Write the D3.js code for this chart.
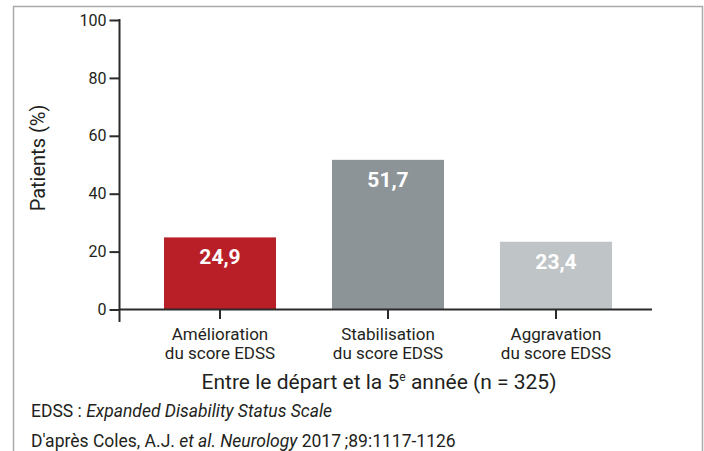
<!DOCTYPE html>
<html>
<head>
<meta charset="utf-8">
<script src="https://cdn.jsdelivr.net/npm/d3@7"></script>
<style>
  html, body { margin: 0; padding: 0; background: #fff; }
  svg { display: block; font-family: Roboto, "Noto Sans", sans-serif; }
</style>
</head>
<body>
<svg id="chart" width="704" height="451"></svg>
<script>
const categories = ["Amélioration|du score EDSS", "Stabilisation|du score EDSS", "Aggravation|du score EDSS"];
const values = [24.9, 51.7, 23.4];
const valueLabels = ["24,9", "51,7", "23,4"];
const colors = ["#B81F27", "#8D9497", "#BFC4C6"];
const yTicks = [0, 20, 40, 60, 80, 100];
const yTitle = "Patients (%)";
const footnote1 = ["EDSS : ", "Expanded Disability Status Scale"];

const svg = d3.select("#chart");
const textColor = "#231F20";

// frame
svg.append("path")
  .attr("d", "M13.5,451 L13.5,6.5 L702.5,6.5 L702.5,451")
  .attr("fill", "none").attr("stroke", "#ABABAB").attr("stroke-width", 1.5);

const y = d3.scaleLinear().domain([0, 100]).range([309.5, 20]);
const x = d3.scaleBand().domain(categories).range([136, 640]).paddingInner(1/3).paddingOuter(1/6);
const axisX = 119.5;

// bars
svg.selectAll("rect.bar").data(categories).join("rect")
  .attr("class", "bar")
  .attr("x", d => x(d))
  .attr("width", x.bandwidth())
  .attr("y", (d, i) => y(values[i]))
  .attr("height", (d, i) => y(0) - y(values[i]))
  .attr("fill", (d, i) => colors[i]);

svg.selectAll("text.val").data(categories).join("text")
  .attr("class", "val")
  .attr("x", d => x(d) + x.bandwidth() / 2)
  .attr("y", (d, i) => y(values[i]) + 27)
  .attr("text-anchor", "middle")
  .attr("fill", "#fff")
  .attr("font-weight", "bold")
  .attr("font-size", 21)
  .text((d, i) => valueLabels[i]);

// y axis
const yAxis = d3.axisLeft(y).tickValues(yTicks).tickSize(10).tickPadding(3).tickSizeOuter(0);
const gy = svg.append("g").attr("transform", `translate(${axisX},0)`).call(yAxis);
gy.select(".domain").remove();
gy.selectAll(".tick line").attr("stroke", "#2b2b2b").attr("stroke-width", 2);
gy.selectAll(".tick text").attr("font-size", 16).attr("fill", textColor).attr("font-family", "Roboto, sans-serif");
svg.append("line").attr("x1", axisX).attr("x2", axisX).attr("y1", 19).attr("y2", 322)
  .attr("stroke", "#2b2b2b").attr("stroke-width", 2);

// x axis
svg.append("line").attr("x1", axisX).attr("x2", 652).attr("y1", y(0)).attr("y2", y(0))
  .attr("stroke", "#2b2b2b").attr("stroke-width", 2);
svg.selectAll("line.xt").data(categories).join("line")
  .attr("class", "xt")
  .attr("x1", d => x(d) + x.bandwidth() / 2).attr("x2", d => x(d) + x.bandwidth() / 2)
  .attr("y1", y(0)).attr("y2", 319)
  .attr("stroke", "#2b2b2b").attr("stroke-width", 2);

const cat = svg.selectAll("text.cat").data(categories).join("text")
  .attr("class", "cat")
  .attr("text-anchor", "middle")
  .attr("font-size", 17)
  .attr("fill", textColor);
cat.each(function(d) {
  const parts = d.split("|");
  const t = d3.select(this);
  parts.forEach((p, k) => {
    t.append("tspan").attr("x", x(d) + x.bandwidth() / 2).attr("y", 340 + k * 19).text(p);
  });
});

// y title
svg.append("text")
  .attr("transform", "translate(45,158) rotate(-90)")
  .attr("text-anchor", "middle")
  .attr("font-size", 20)
  .attr("fill", textColor)
  .text(yTitle);

// x title
const xt = svg.append("text")
  .attr("x", 379).attr("y", 389)
  .attr("text-anchor", "middle")
  .attr("font-size", 21)
  .attr("fill", textColor);
xt.append("tspan").text("Entre le départ et la 5");
xt.append("tspan").attr("font-size", 12).attr("dy", -8).text("e");
xt.append("tspan").attr("dy", 8).text(" année (n = 325)");

// footnotes
const f1 = svg.append("text").attr("x", 31).attr("y", 417).attr("font-size", 17.5).attr("fill", textColor);
f1.append("tspan").text(footnote1[0]);
f1.append("tspan").attr("font-style", "italic").text(footnote1[1]);

const f2 = svg.append("text").attr("x", 31).attr("y", 447).attr("font-size", 17.5).attr("fill", textColor);
f2.append("tspan").text("D'après Coles, A.J. ");
f2.append("tspan").attr("font-style", "italic").text("et al. Neurology ");
f2.append("tspan").text("2017\u2009;89:1117-1126");
</script>
</body>
</html>
